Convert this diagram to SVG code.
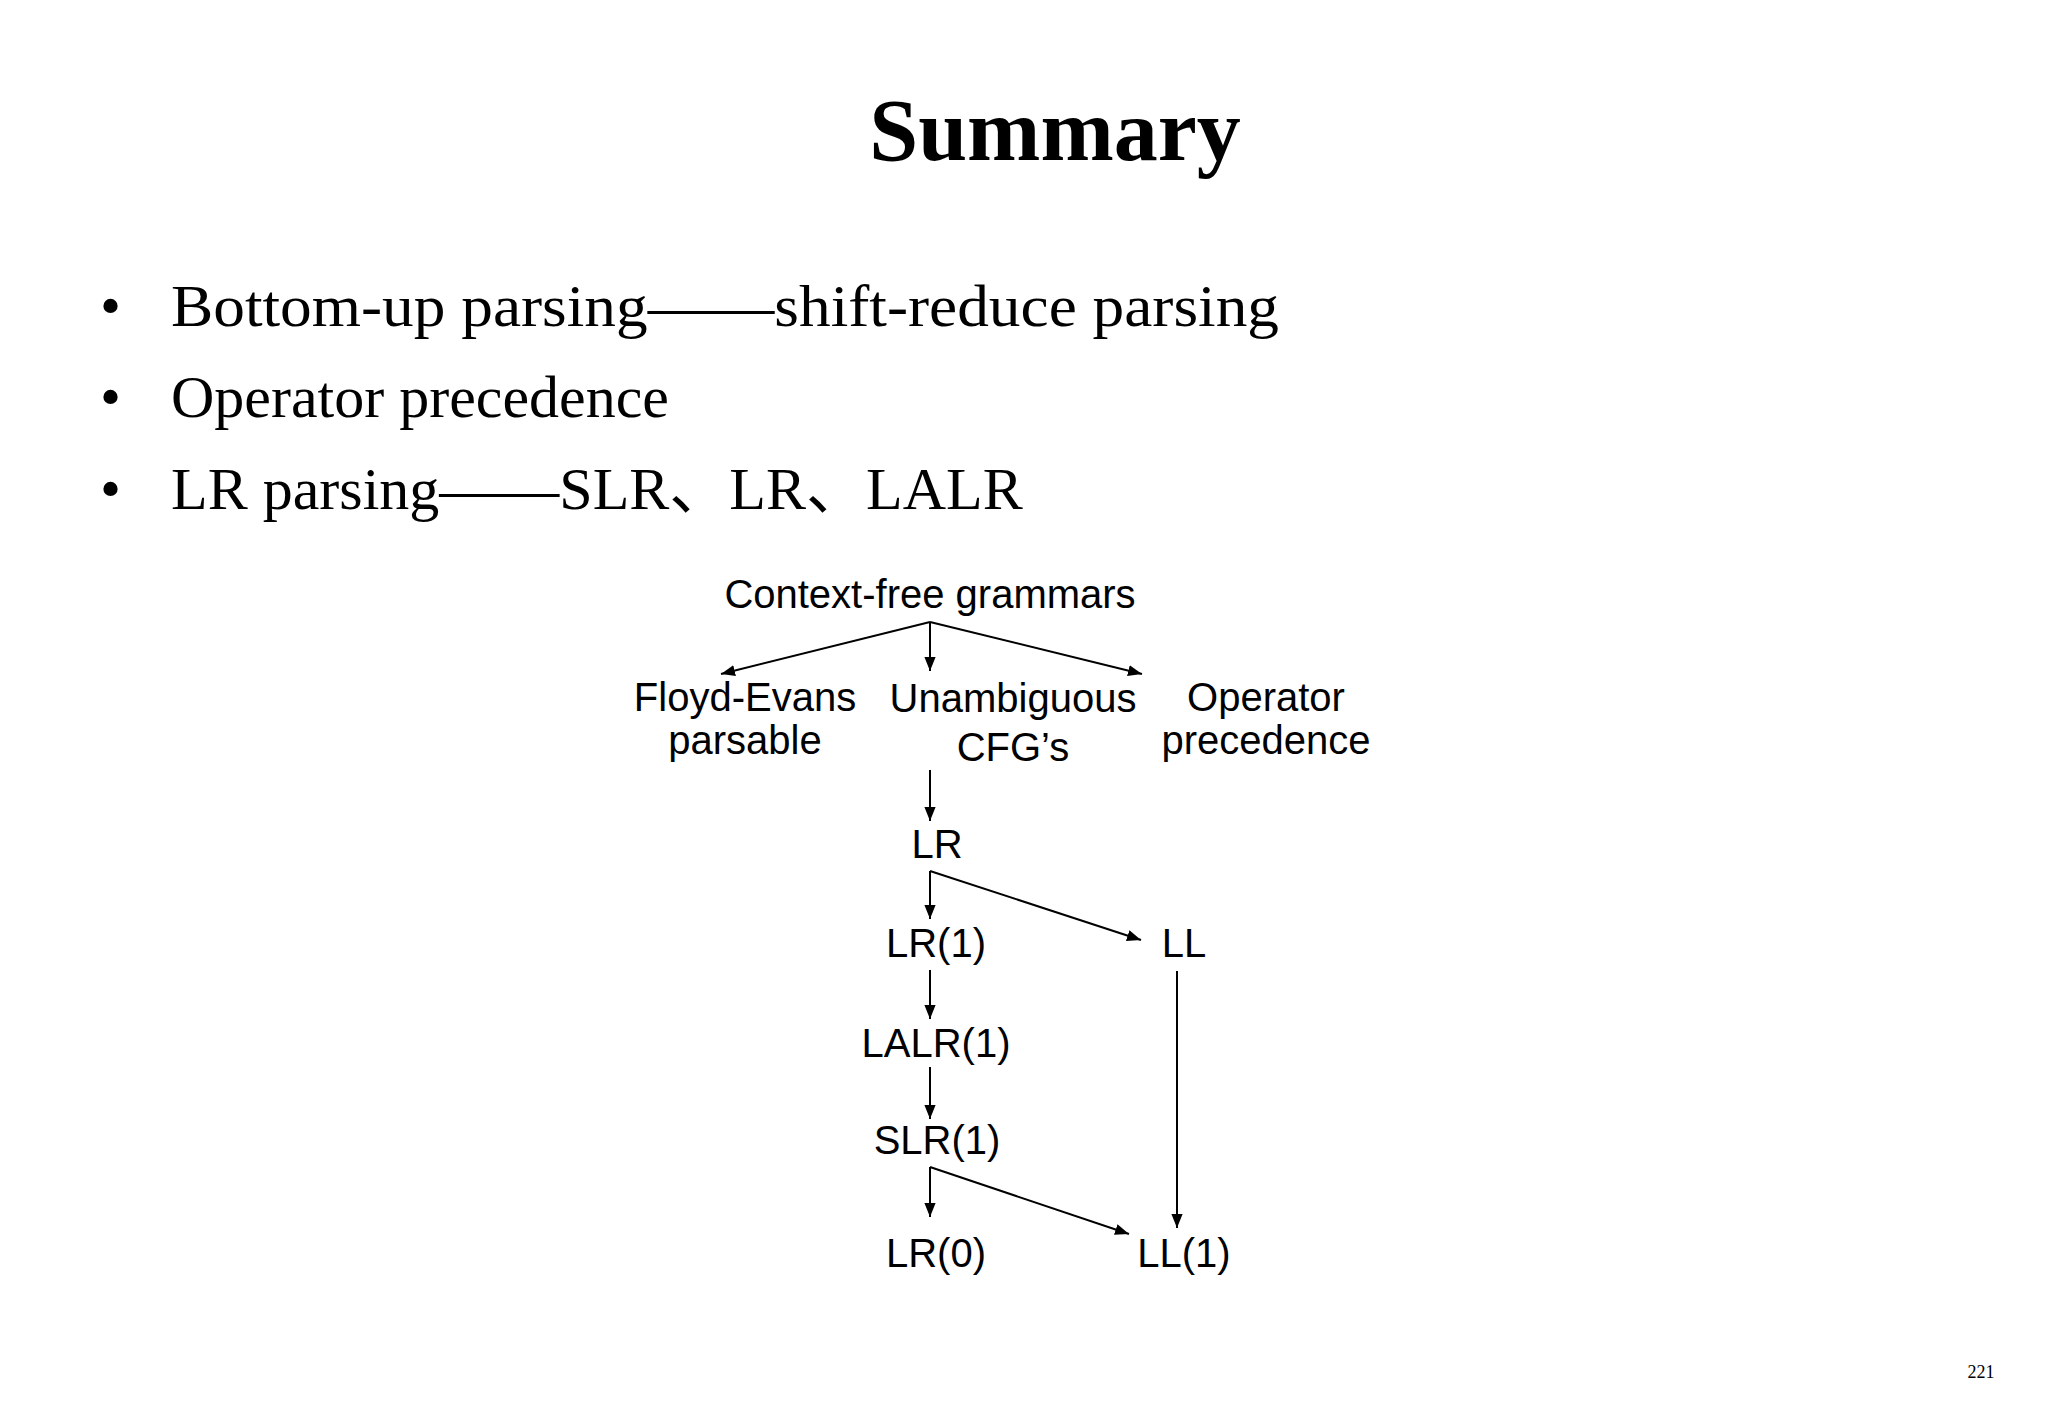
<svg xmlns="http://www.w3.org/2000/svg" width="2048" height="1418" viewBox="0 0 2048 1418">
<style>
.t{font-family:"Liberation Serif","Noto Sans CJK SC",serif;fill:#000}
.n{font-family:"Liberation Sans",Arial,sans-serif;font-size:40px;fill:#000;text-anchor:middle}
.c{stroke:#000;stroke-width:2;fill:none;marker-end:url(#a)}
</style>
<defs><marker id="a" viewBox="0 0 10 10" refX="10" refY="5" markerWidth="14" markerHeight="14" markerUnits="userSpaceOnUse" orient="auto"><path d="M0,1 L10,5 L0,9 Z" fill="#000"/></marker></defs>
<rect width="2048" height="1418" fill="#fff"/>
<text class="t" x="1055" y="160" font-size="88" font-weight="bold" text-anchor="middle">Summary</text>
<g class="t" font-size="60">
<text x="100" y="326">•</text><text x="171" y="326" textLength="1108" lengthAdjust="spacingAndGlyphs">Bottom-up parsing——shift-reduce parsing</text>
<text x="100" y="417">•</text><text x="171" y="417">Operator precedence</text>
<text x="100" y="509">•</text><text x="171" y="509">LR parsing——SLR、LR、LALR</text>
</g>
<g id="cfg"><text class="n" x="930" y="608">Context-free grammars</text></g>
<g id="floyd"><text class="n" x="745" y="711">Floyd-Evans</text><text class="n" x="745" y="754">parsable</text></g>
<g id="unamb"><text class="n" x="1013" y="712">Unambiguous</text><text class="n" x="1013" y="761">CFG’s</text></g>
<g id="opprec"><text class="n" x="1266" y="711">Operator</text><text class="n" x="1266" y="754">precedence</text></g>
<g id="lr"><text class="n" x="937" y="858">LR</text></g>
<g id="lr1"><text class="n" x="936" y="957">LR(1)</text></g>
<g id="ll"><text class="n" x="1184" y="957">LL</text></g>
<g id="lalr1"><text class="n" x="936" y="1057">LALR(1)</text></g>
<g id="slr1"><text class="n" x="937" y="1154">SLR(1)</text></g>
<g id="lr0"><text class="n" x="936" y="1267">LR(0)</text></g>
<g id="ll1"><text class="n" x="1184" y="1267">LL(1)</text></g>
<g id="connectors">
<path class="c" d="M930,622 L721,674"/>
<path class="c" d="M930,622 L930,671"/>
<path class="c" d="M930,622 L1142,674"/>
<path class="c" d="M930,770 L930,821"/>
<path class="c" d="M930,871 L930,919"/>
<path class="c" d="M930,871 L1141,940"/>
<path class="c" d="M930,970 L930,1019"/>
<path class="c" d="M930,1067 L930,1119"/>
<path class="c" d="M930,1167 L930,1217"/>
<path class="c" d="M930,1167 L1129,1234"/>
<path class="c" d="M1177,971 L1177,1228"/>
</g>
<text class="t" x="1981" y="1378" font-size="18" text-anchor="middle">221</text>
</svg>
